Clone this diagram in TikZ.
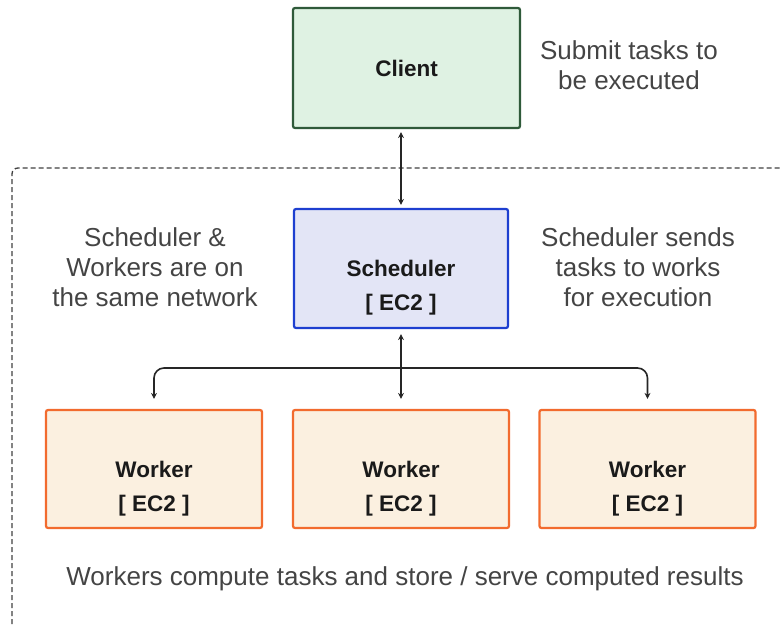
\documentclass[tikz,border=0pt]{standalone}
\usepackage{fontspec}
\setmainfont{Liberation Sans}
\usetikzlibrary{arrows.meta}
\definecolor{clientfill}{HTML}{DFF2E3}
\definecolor{clientdraw}{HTML}{2F5A3A}
\definecolor{schfill}{HTML}{E3E5F6}
\definecolor{schdraw}{HTML}{1E3FD0}
\definecolor{wfill}{HTML}{FBF0E0}
\definecolor{wdraw}{HTML}{F26B2E}
\definecolor{txtdark}{HTML}{1A1A1A}
\definecolor{txtgray}{HTML}{444444}
\tikzset{
  box/.style={rectangle, rounded corners=2pt, line width=2.2pt, inner sep=0pt},
  boxtext/.style={align=center, text=txtdark, font=\fontsize{22.5}{34}\selectfont\bfseries, inner sep=0pt},
  clientbox/.style={box, fill=clientfill, draw=clientdraw, minimum width=227pt, minimum height=120pt},
  schbox/.style={box, fill=schfill, draw=schdraw, minimum width=214pt, minimum height=119pt},
  wbox/.style={box, fill=wfill, draw=wdraw, minimum width=216pt, minimum height=118pt},
  note/.style={align=center, text=txtgray, font=\fontsize{26}{30}\selectfont, inner sep=0pt},
  arr/.style={line width=1.6pt, draw=black!85, -{Stealth[length=6pt,width=6pt]}},
  darr/.style={line width=1.6pt, draw=black!85, {Stealth[length=6pt,width=6pt]}-{Stealth[length=6pt,width=6pt]}},
}
\begin{document}
\begin{tikzpicture}[x=1pt,y=-1pt]
\useasboundingbox (0,0) rectangle (781,626);
% dashed frame
\draw[dashed, dash pattern=on 5pt off 3pt, line width=1.3pt, draw=black!75, rounded corners=6pt]
  (12,640) -- (12,168) -- (800,168);
% boxes
\node[clientbox] (client) at (406.5,68) {};
\node[boxtext] (clientT) at (client.center) {Client};
\node[schbox] (sch) at (401,268.5) {};
\node[boxtext] (schT) at ([yshift=-19.5pt]sch.center) {Scheduler\\{[ EC2 ]}};
\node[wbox] (w1) at (154,469) {};
\node[wbox] (w2) at (401,469) {};
\node[wbox] (w3) at (647.5,469) {};
\node[boxtext] (w1T) at ([yshift=-20pt]w1.center) {Worker\\{[ EC2 ]}};
\node[boxtext] (w2T) at ([yshift=-20pt]w2.center) {Worker\\{[ EC2 ]}};
\node[boxtext] (w3T) at ([yshift=-20pt]w3.center) {Worker\\{[ EC2 ]}};
% notes
\node[note] (submit) at (629,65) {Submit tasks to\\be executed};
\node[note] (leftnote) at (155,267) {Scheduler \&\\Workers are on\\the same network};
\node[note] (rightnote) at (638,267) {Scheduler sends\\tasks to works\\for execution};
\node[note] (bottom) at (405,579) {Workers compute tasks and store / serve computed results};
% connectors
\draw[darr, shorten <=3pt, shorten >=3pt] (sch.north |- client.south) -- (sch.north);
\coordinate (j) at (401,368);
\draw[arr, shorten >=5pt] (j) -- (sch.south);
\draw[arr, shorten >=10pt, rounded corners=10pt] (j) -| (w1.north);
\draw[arr, shorten >=10pt, rounded corners=10pt] (j) -| (w3.north);
\draw[arr, shorten >=10pt] (j) -- (w2.north);
\end{tikzpicture}
\end{document}
